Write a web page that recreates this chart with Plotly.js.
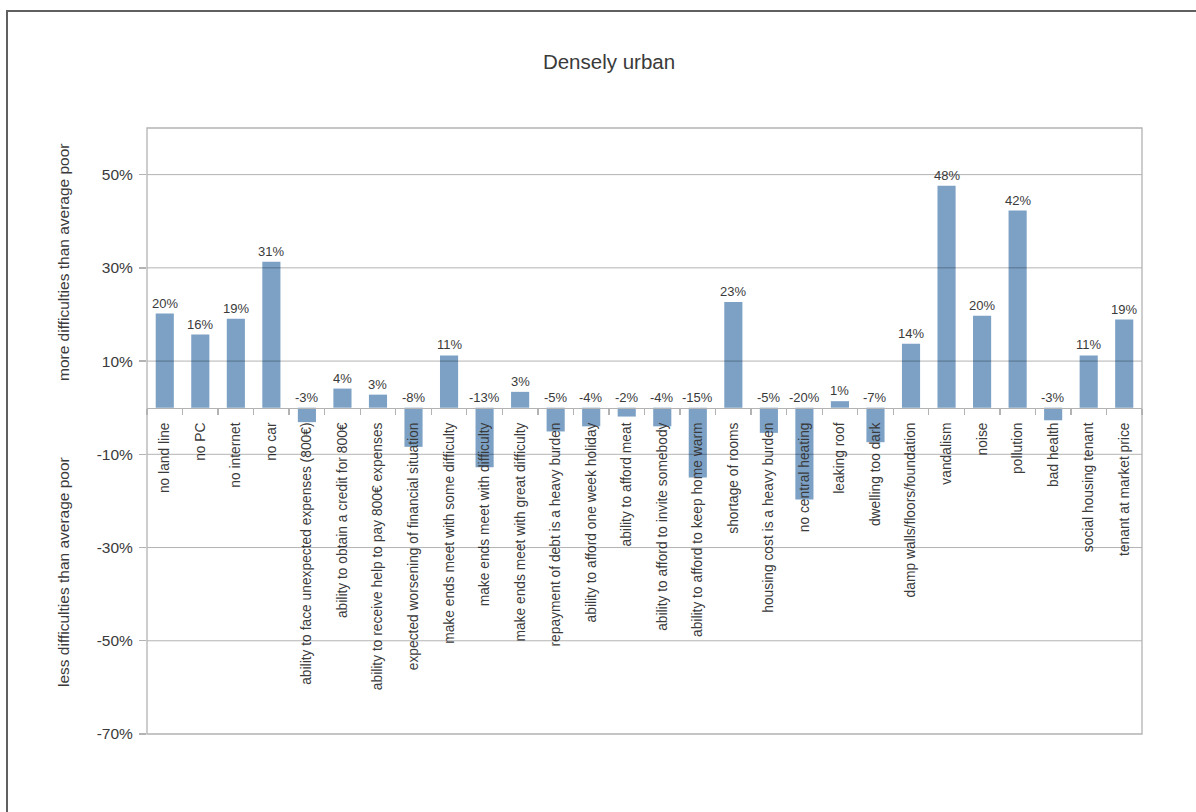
<!DOCTYPE html>
<html>
<head>
<meta charset="utf-8">
<script src="https://cdn.plot.ly/plotly-3.0.1.min.js"></script>
<style>
  html, body { margin: 0; padding: 0; background: #fff; }
  #chart { width: 1196px; height: 812px; }
  #frame { position: absolute; left: 6px; top: 10px; width: 1190px; height: 802px;
           border-left: 2px solid #606060; border-top: 2px solid #606060; box-sizing: border-box;
           pointer-events: none; }
</style>
</head>
<body>
<div id="chart"></div>
<div id="frame"></div>
<script>
const categories = [
  "no land line", "no PC", "no internet", "no car",
  "ability to face unexpected expenses (800€)",
  "ability to obtain a credit for 800€",
  "ability to receive help to pay 800€ expenses",
  "expected worsening of financial situation",
  "make ends meet with some difficulty",
  "make ends meet with difficulty",
  "make ends meet with great difficulty",
  "repayment of debt is a heavy burden",
  "ability to afford one week holiday",
  "ability to afford meat",
  "ability to afford to invite somebody",
  "ability to afford to keep home warm",
  "shortage of rooms",
  "housing cost is a heavy burden",
  "no central heating",
  "leaking roof",
  "dwelling too dark",
  "damp walls/floors/foundation",
  "vandalism", "noise", "pollution", "bad health",
  "social housing tenant", "tenant at market price"
];
const values = [
  20.2, 15.7, 19.1, 31.3,
  -3.1, 4.1, 2.8, -8.4,
  11.2, -12.8, 3.4, -5.1,
  -4.0, -1.9, -4.0, -15.0,
  22.7, -5.4, -19.7, 1.4,
  -7.4, 13.7, 47.6, 19.7,
  42.3, -2.7, 11.2, 18.9
];
const yTickVals = [-70, -50, -30, -10, 10, 30, 50];
const yTickText = yTickVals.map(v => v + "%");
const yRange = [-70, 60];

const textColor = "#3a3a3a";
const barColor = "#7ca1c5";

const trace = {
  type: "bar",
  x: categories,
  y: values,
  marker: { color: barColor, line: { width: 0 } },
  hoverinfo: "x+y"
};

const valueLabels = categories.map((c, i) => ({
  x: c, y: Math.max(values[i], 0), xref: "x", yref: "y",
  text: Math.round(values[i]) + "%",
  showarrow: false, yanchor: "bottom", yshift: 1,
  font: { family: "Liberation Sans, Arial, sans-serif", size: 13, color: textColor }
}));

const axisTitles = [
  { text: "more difficulties than average poor", x: 63, y: 262 },
  { text: "less difficulties than average poor", x: 63, y: 572 }
].map(a => ({
  text: a.text, textangle: -90, showarrow: false,
  xref: "paper", yref: "paper",
  x: (a.x - 147) / (1142 - 147), y: (734 - a.y) / (734 - 128),
  xanchor: "center", yanchor: "middle",
  font: { family: "Liberation Sans, Arial, sans-serif", size: 15.5, color: textColor }
}));

const gridShapes = yTickVals.filter(v => v > yRange[0]).map(v => ({
  type: "line", xref: "paper", yref: "y", x0: 0, x1: 1, y0: v, y1: v,
  line: { color: "rgba(0,0,0,0.3)", width: 1 }, layer: "above"
}));
const border = {
  type: "rect", xref: "paper", yref: "paper", x0: 0, x1: 1, y0: 0, y1: 1,
  line: { color: "#b3b3b3", width: 1.3 }, layer: "above"
};

const layout = {
  width: 1196, height: 812,
  margin: { l: 147, r: 54, t: 128, b: 78 },
  paper_bgcolor: "#ffffff", plot_bgcolor: "#ffffff",
  font: { family: "Liberation Sans, Arial, sans-serif", color: textColor },
  title: {
    text: "Densely urban",
    x: 609 / 1196, xref: "container", xanchor: "center",
    y: 1 - 62 / 812, yref: "container", yanchor: "middle",
    font: { family: "Liberation Sans, Arial, sans-serif", size: 20.5, color: textColor }
  },
  showlegend: false,
  bargap: 0.49,
  xaxis: {
    type: "category",
    anchor: "free",
    position: (0 - yRange[0]) / (yRange[1] - yRange[0]),
    showline: true, linecolor: "#b3b3b3", linewidth: 1.3,
    ticks: "outside", ticklen: 6, tickcolor: "#b3b3b3", tickwidth: 1.3,
    tickson: "boundaries",
    showgrid: false, zeroline: false,
    tickangle: -90,
    ticklabelstandoff: 8,
    tickfont: { family: "Liberation Sans, Arial, sans-serif", size: 13.8, color: textColor },
    layer: "above traces",
    fixedrange: true
  },
  yaxis: {
    range: yRange,
    tickvals: yTickVals, ticktext: yTickText,
    showgrid: false, zeroline: false,
    showline: false,
    ticks: "outside", ticklen: 7, tickcolor: "#b3b3b3", tickwidth: 1.3,
    ticklabelstandoff: 3,
    tickfont: { family: "Liberation Sans, Arial, sans-serif", size: 15.5, color: textColor },
    fixedrange: true
  },
  shapes: gridShapes.concat([border]),
  annotations: valueLabels.concat(axisTitles)
};

Plotly.newPlot("chart", [trace], layout, { displayModeBar: false, staticPlot: true });
</script>
</body>
</html>
